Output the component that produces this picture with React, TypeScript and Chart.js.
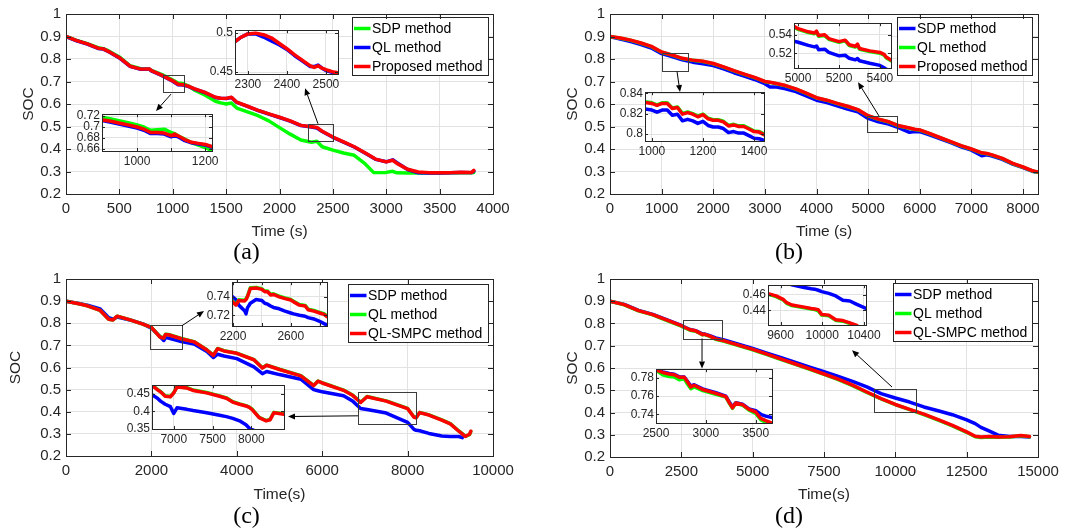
import React, { useEffect, useRef } from 'react';
import { Chart, registerables } from 'chart.js';

Chart.register(...registerables);

// ===================== DATA =====================
// shared main-axis ticks
const MAIN_Y_TICKS = [0.2, 0.3, 0.4, 0.5, 0.6, 0.7, 0.8, 0.9, 1];
const MAIN_Y_LABELS = ['0.2', '0.3', '0.4', '0.5', '0.6', '0.7', '0.8', '0.9', '1'];
const A_X_TICKS = [0, 500, 1000, 1500, 2000, 2500, 3000, 3500, 4000];
const B_X_TICKS = [0, 1000, 2000, 3000, 4000, 5000, 6000, 7000, 8000];
const C_X_TICKS = [0, 2000, 4000, 6000, 8000, 10000];
const D_X_TICKS = [0, 2500, 5000, 7500, 10000, 12500, 15000];

// ---- panel (a) ----
const A_T = [0, 100, 200, 300, 350, 400, 500, 600, 700, 780, 800, 900, 1000, 1050, 1100, 1150, 1200, 1300, 1400, 1450, 1500, 1550, 1600, 1700, 1800, 1900, 2000, 2100, 2200, 2300, 2350, 2400, 2500, 2600, 2700, 2800, 2880, 2900, 3000, 3060, 3100, 3200, 3300, 3400, 3500, 3600, 3700, 3800, 3820];
const A_PROP = [0.900, 0.882, 0.867, 0.848, 0.845, 0.833, 0.806, 0.768, 0.755, 0.756, 0.748, 0.727, 0.703, 0.688, 0.686, 0.678, 0.668, 0.652, 0.630, 0.626, 0.625, 0.630, 0.608, 0.590, 0.572, 0.556, 0.541, 0.525, 0.505, 0.499, 0.496, 0.479, 0.453, 0.432, 0.410, 0.383, 0.361, 0.355, 0.343, 0.350, 0.336, 0.310, 0.298, 0.295, 0.295, 0.295, 0.297, 0.296, 0.305];
const A_QL = [0.899, 0.881, 0.866, 0.847, 0.844, 0.832, 0.805, 0.767, 0.754, 0.755, 0.747, 0.726, 0.701, 0.686, 0.684, 0.677, 0.667, 0.651, 0.629, 0.625, 0.624, 0.629, 0.607, 0.589, 0.571, 0.555, 0.540, 0.524, 0.504, 0.498, 0.493, 0.478, 0.452, 0.431, 0.409, 0.382, 0.360, 0.354, 0.343, 0.352, 0.339, 0.309, 0.294, 0.293, 0.293, 0.294, 0.296, 0.295, 0.302];
const A_SDP = [0.900, 0.883, 0.868, 0.850, 0.846, 0.836, 0.809, 0.770, 0.757, 0.754, 0.750, 0.731, 0.706, 0.693, 0.690, 0.680, 0.663, 0.640, 0.612, 0.605, 0.600, 0.604, 0.582, 0.565, 0.548, 0.525, 0.495, 0.466, 0.440, 0.430, 0.434, 0.410, 0.395, 0.382, 0.372, 0.335, 0.296, 0.295, 0.296, 0.301, 0.294, 0.293, 0.293, 0.293, 0.293, 0.294, 0.294, 0.294, 0.295];

// ---- panel (b) ----
const B_T = [0, 200, 400, 600, 800, 1000, 1200, 1400, 1600, 1800, 2000, 2200, 2400, 2600, 2800, 3000, 3100, 3200, 3400, 3600, 3800, 4000, 4200, 4400, 4600, 4800, 5000, 5200, 5400, 5600, 5800, 5900, 6000, 6200, 6400, 6600, 6800, 7000, 7200, 7300, 7400, 7600, 7800, 8000, 8200, 8290];
const B_PROP = [0.900, 0.893, 0.884, 0.871, 0.856, 0.831, 0.818, 0.803, 0.795, 0.790, 0.780, 0.765, 0.748, 0.733, 0.718, 0.700, 0.697, 0.692, 0.682, 0.667, 0.648, 0.628, 0.617, 0.603, 0.590, 0.575, 0.548, 0.533, 0.521, 0.503, 0.493, 0.488, 0.485, 0.468, 0.450, 0.433, 0.415, 0.400, 0.383, 0.380, 0.374, 0.358, 0.336, 0.320, 0.302, 0.298];
const B_QL = [0.900, 0.892, 0.883, 0.870, 0.855, 0.830, 0.817, 0.802, 0.794, 0.789, 0.779, 0.764, 0.747, 0.732, 0.717, 0.699, 0.696, 0.691, 0.681, 0.666, 0.647, 0.627, 0.616, 0.602, 0.589, 0.574, 0.547, 0.532, 0.520, 0.502, 0.492, 0.487, 0.484, 0.467, 0.449, 0.432, 0.414, 0.399, 0.382, 0.379, 0.373, 0.357, 0.335, 0.319, 0.301, 0.297];
const B_SDP = [0.899, 0.889, 0.877, 0.864, 0.849, 0.824, 0.811, 0.796, 0.786, 0.779, 0.771, 0.756, 0.739, 0.724, 0.709, 0.690, 0.676, 0.676, 0.668, 0.655, 0.636, 0.617, 0.606, 0.592, 0.577, 0.565, 0.536, 0.521, 0.511, 0.494, 0.474, 0.478, 0.477, 0.462, 0.445, 0.428, 0.410, 0.395, 0.370, 0.374, 0.369, 0.354, 0.333, 0.317, 0.300, 0.297];

// ---- panel (c) ----
const C_T = [0, 300, 500, 800, 1000, 1100, 1200, 1500, 1800, 2000, 2200, 2290, 2330, 2400, 2700, 3000, 3300, 3450, 3550, 3700, 4000, 4400, 4600, 4700, 5000, 5500, 5800, 5900, 6000, 6500, 6720, 6900, 7050, 7500, 8000, 8150, 8200, 8280, 8500, 8800, 9000, 9200, 9280, 9350, 9450, 9480];
const C_SMPC = [0.900, 0.888, 0.879, 0.858, 0.818, 0.815, 0.832, 0.815, 0.796, 0.781, 0.738, 0.733, 0.749, 0.748, 0.730, 0.716, 0.679, 0.655, 0.685, 0.675, 0.664, 0.635, 0.598, 0.610, 0.591, 0.562, 0.518, 0.538, 0.530, 0.497, 0.473, 0.442, 0.468, 0.448, 0.414, 0.375, 0.373, 0.396, 0.385, 0.362, 0.345, 0.312, 0.300, 0.288, 0.298, 0.312];
const C_QL = [0.900, 0.888, 0.879, 0.858, 0.818, 0.815, 0.832, 0.815, 0.796, 0.781, 0.739, 0.734, 0.750, 0.749, 0.731, 0.717, 0.680, 0.656, 0.686, 0.676, 0.665, 0.636, 0.599, 0.611, 0.592, 0.563, 0.519, 0.539, 0.531, 0.498, 0.474, 0.443, 0.469, 0.449, 0.415, 0.376, 0.374, 0.397, 0.386, 0.363, 0.346, 0.313, 0.301, 0.289, 0.297, 0.310];
const C_SDP = [0.900, 0.889, 0.882, 0.865, 0.825, 0.818, 0.828, 0.815, 0.797, 0.778, 0.740, 0.722, 0.735, 0.733, 0.717, 0.706, 0.672, 0.645, 0.660, 0.652, 0.640, 0.603, 0.572, 0.582, 0.568, 0.547, 0.500, 0.495, 0.490, 0.472, 0.447, 0.415, 0.410, 0.394, 0.352, 0.320, 0.316, 0.314, 0.302, 0.290, 0.288, 0.288, 0.283, null, null, null];

// ---- panel (d) ----
const D_T = [0, 500, 1000, 1500, 2000, 2500, 2800, 3000, 3250, 3300, 3500, 3700, 4000, 4500, 5000, 5500, 6000, 6500, 7000, 7500, 8000, 8500, 9000, 9500, 10000, 10500, 11000, 11500, 12000, 12500, 12800, 13000, 13300, 13600, 14000, 14400, 14700];
const D_SMPC = [0.900, 0.885, 0.858, 0.840, 0.815, 0.790, 0.772, 0.767, 0.750, 0.752, 0.743, 0.731, 0.722, 0.703, 0.684, 0.662, 0.640, 0.618, 0.596, 0.573, 0.550, 0.523, 0.492, 0.462, 0.436, 0.414, 0.393, 0.368, 0.342, 0.313, 0.293, 0.290, 0.292, 0.290, 0.291, 0.297, 0.292];
const D_QL = [0.900, 0.884, 0.857, 0.839, 0.813, 0.788, 0.770, 0.765, 0.749, 0.751, 0.742, 0.729, 0.720, 0.701, 0.682, 0.660, 0.638, 0.616, 0.594, 0.571, 0.548, 0.521, 0.490, 0.461, 0.435, 0.413, 0.391, 0.366, 0.340, 0.311, 0.291, 0.288, 0.290, 0.289, 0.290, 0.296, 0.291];
const D_SDP = [0.900, 0.886, 0.859, 0.841, 0.816, 0.791, 0.773, 0.768, 0.752, 0.753, 0.745, 0.735, 0.726, 0.707, 0.688, 0.667, 0.646, 0.625, 0.604, 0.583, 0.562, 0.540, 0.515, 0.485, 0.465, 0.447, 0.425, 0.408, 0.390, 0.367, 0.350, 0.333, 0.316, 0.298, 0.292, 0.292, 0.290];

// ---- insets ----
const IA1_T = [897, 920, 950, 980, 1000, 1020, 1040, 1060, 1080, 1100, 1110, 1120, 1140, 1160, 1180, 1200, 1220];
const IA1_PROP = [0.713, 0.711, 0.707, 0.703, 0.700, 0.696, 0.690, 0.690, 0.689, 0.684, 0.687, 0.684, 0.677, 0.672, 0.670, 0.668, 0.664];
const IA1_QL = [0.712, 0.709, 0.705, 0.701, 0.698, 0.694, 0.688, 0.688, 0.687, 0.682, 0.685, 0.682, 0.675, 0.671, 0.669, 0.667, 0.663];
const IA1_SDP = [0.718, 0.715, 0.711, 0.707, 0.704, 0.700, 0.694, 0.695, 0.696, 0.690, 0.688, 0.684, 0.678, 0.671, 0.667, 0.662, 0.657];
const IA1_X_TICKS = [1000, 1100, 1200];
const IA1_X_LABELS = ['1000', '', '1200'];
const IA1_Y_TICKS = [0.66, 0.68, 0.7, 0.72];
const IA1_Y_LABELS = ['0.66', '0.68', '0.7', '0.72'];

const IA2_T = [2267, 2280, 2300, 2320, 2340, 2360, 2380, 2400, 2420, 2440, 2460, 2470, 2480, 2490, 2500, 2520, 2531];
const IA2_PROP = [0.489, 0.494, 0.499, 0.500, 0.498, 0.494, 0.487, 0.480, 0.472, 0.465, 0.458, 0.456, 0.458, 0.455, 0.453, 0.450, 0.449];
const IA2_QL = [0.489, 0.494, 0.499, 0.499, 0.495, 0.490, 0.485, 0.479, 0.471, 0.464, 0.457, 0.457, 0.459, 0.455, 0.452, 0.449, 0.448];
const IA2_SDP = [0.432, 0.431, 0.430, 0.432, 0.434, 0.430, 0.424, 0.410, 0.407, 0.404, 0.401, 0.400, 0.399, 0.397, 0.395, 0.392, 0.391];
const IA2_X_TICKS = [2300, 2400, 2500];
const IA2_X_LABELS = ['2300', '2400', '2500'];
const IA2_Y_TICKS = [0.45, 0.5];
const IA2_Y_LABELS = ['0.45', '0.5'];

const IB1_T = [973, 1000, 1020, 1040, 1060, 1080, 1100, 1120, 1140, 1160, 1180, 1200, 1220, 1240, 1260, 1280, 1300, 1320, 1340, 1360, 1380, 1400, 1420, 1439];
const IB1_PROP = [0.831, 0.830, 0.828, 0.830, 0.830, 0.825, 0.826, 0.8195, 0.821, 0.8195, 0.817, 0.819, 0.815, 0.8135, 0.8135, 0.812, 0.808, 0.809, 0.8075, 0.8075, 0.805, 0.8025, 0.802, 0.7995];
const IB1_QL = [0.8316, 0.8306, 0.8286, 0.8306, 0.8306, 0.8256, 0.8266, 0.8201, 0.8216, 0.8201, 0.8176, 0.8196, 0.8156, 0.8141, 0.8141, 0.8126, 0.8086, 0.8096, 0.8081, 0.8081, 0.8056, 0.8031, 0.8026, 0.8001];
const IB1_SDP = [0.8245, 0.8235, 0.8215, 0.8235, 0.8235, 0.8185, 0.8195, 0.813, 0.8145, 0.813, 0.8105, 0.8125, 0.8085, 0.807, 0.807, 0.8055, 0.8015, 0.8025, 0.801, 0.801, 0.7985, 0.796, 0.7955, 0.794];
const IB1_X_TICKS = [1000, 1200, 1400];
const IB1_X_LABELS = ['1000', '1200', '1400'];
const IB1_Y_TICKS = [0.8, 0.82, 0.84];
const IB1_Y_LABELS = ['0.8', '0.82', '0.84'];

const IB2_T = [4980, 5000, 5050, 5080, 5090, 5100, 5130, 5150, 5200, 5230, 5250, 5280, 5290, 5300, 5350, 5400, 5420, 5430, 5454];
const IB2_PROP = [0.5493, 0.5467, 0.5433, 0.542, 0.544, 0.5393, 0.540, 0.536, 0.5327, 0.5343, 0.5293, 0.5277, 0.530, 0.5253, 0.5227, 0.521, 0.519, 0.516, 0.5127];
const IB2_QL = [0.5485, 0.5459, 0.5425, 0.5412, 0.5432, 0.5385, 0.5392, 0.5352, 0.5319, 0.5335, 0.5285, 0.5269, 0.5292, 0.5245, 0.5219, 0.5202, 0.5182, 0.5152, 0.5119];
const IB2_SDP = [0.5333, 0.532, 0.5287, 0.527, 0.528, 0.524, 0.5245, 0.521, 0.5173, 0.518, 0.5147, 0.513, 0.5145, 0.512, 0.5093, 0.507, 0.5045, 0.503, 0.501];
const IB2_X_TICKS = [5000, 5200, 5400];
const IB2_X_LABELS = ['5000', '5200', '5400'];
const IB2_Y_TICKS = [0.52, 0.54];
const IB2_Y_LABELS = ['0.52', '0.54'];

const IC1_T = [2193, 2220, 2240, 2280, 2290, 2300, 2320, 2360, 2400, 2420, 2440, 2460, 2480, 2520, 2560, 2600, 2620, 2660, 2700, 2720, 2760, 2800, 2830, 2851];
const IC1_SMPC = [0.7353, 0.731, 0.736, 0.7355, 0.737, 0.740, 0.749, 0.7495, 0.748, 0.7455, 0.7455, 0.742, 0.7425, 0.740, 0.738, 0.7365, 0.7345, 0.731, 0.730, 0.726, 0.7245, 0.7225, 0.721, 0.7185];
const IC1_QL = [0.736, 0.7317, 0.7367, 0.7362, 0.7377, 0.7407, 0.7497, 0.7502, 0.7487, 0.7462, 0.7462, 0.7427, 0.7432, 0.7407, 0.7387, 0.7372, 0.7352, 0.7317, 0.7307, 0.7267, 0.7252, 0.7232, 0.7217, 0.7192];
const IC1_SDP = [0.7405, 0.737, 0.731, 0.725, 0.7215, 0.728, 0.733, 0.737, 0.736, 0.733, 0.732, 0.730, 0.7285, 0.727, 0.7245, 0.7225, 0.7215, 0.720, 0.719, 0.7175, 0.716, 0.7135, 0.711, 0.7095];
const IC1_X_TICKS = [2200, 2400, 2600, 2800];
const IC1_X_LABELS = ['2200', '', '2600', ''];
const IC1_Y_TICKS = [0.72, 0.74];
const IC1_Y_LABELS = ['0.72', '0.74'];

const IC2_T = [6720, 6790, 6830, 6890, 6957, 7000, 7042, 7170, 7250, 7424, 7590, 7678, 7760, 7847, 7930, 7974, 8010, 8100, 8190, 8240, 8290, 8420];
const IC2_SMPC = [0.473, 0.461, 0.455, 0.4426, 0.441, 0.452, 0.4685, 0.4657, 0.459, 0.452, 0.4426, 0.437, 0.426, 0.420, 0.415, 0.411, 0.405, 0.382, 0.373, 0.376, 0.396, 0.3917];
const IC2_QL = [0.474, 0.462, 0.456, 0.4436, 0.442, 0.453, 0.4695, 0.4667, 0.460, 0.453, 0.4436, 0.438, 0.427, 0.421, 0.416, 0.412, 0.406, 0.383, 0.374, 0.377, 0.397, 0.3927];
const IC2_SDP = [0.447, 0.437, 0.4287, 0.420, 0.413, 0.394, 0.410, 0.4055, 0.402, 0.396, 0.389, 0.385, 0.380, 0.373, 0.362, 0.352, 0.348, 0.340, 0.332, 0.328, 0.325, 0.318];
const IC2_X_TICKS = [7000, 7500, 8000];
const IC2_X_LABELS = ['7000', '7500', '8000'];
const IC2_Y_TICKS = [0.35, 0.4, 0.45];
const IC2_Y_LABELS = ['0.35', '0.4', '0.45'];

const ID1_T = [9480, 9557, 9625, 9659, 9709, 9827, 9894, 9928, 9962, 9995, 10063, 10130, 10198, 10265, 10332, 10420];
const ID1_SMPC = [0.4617, 0.4587, 0.4543, 0.450, 0.447, 0.4443, 0.4426, 0.442, 0.441, 0.4348, 0.434, 0.428, 0.427, 0.424, 0.4209, null];
const ID1_QL = [0.4609, 0.4579, 0.4535, 0.4492, 0.4462, 0.4435, 0.4418, 0.4412, 0.4395, 0.434, 0.4332, 0.4272, 0.4262, 0.4232, 0.4201, null];
const ID1_SDP = [0.485, 0.481, 0.478, 0.476, 0.473, 0.4696, 0.468, 0.4674, 0.466, 0.4643, 0.462, 0.4587, 0.453, 0.4522, 0.4478, 0.4426];
const ID1_X_TICKS = [9600, 10000, 10400];
const ID1_X_LABELS = ['9600', '10000', '10400'];
const ID1_Y_TICKS = [0.44, 0.46];
const ID1_Y_LABELS = ['0.44', '0.46'];

const ID2_T = [2500, 2567, 2633, 2683, 2733, 2783, 2817, 2850, 2883, 2967, 3100, 3200, 3233, 3267, 3300, 3367, 3433, 3500, 3550, 3600, 3663];
const ID2_SMPC = [0.7889, 0.786, 0.7842, 0.7835, 0.7807, 0.7807, 0.7754, 0.770, 0.7719, 0.7673, 0.763, 0.7595, 0.7531, 0.7471, 0.7524, 0.7506, 0.7453, 0.7425, 0.7354, 0.733, 0.7304];
const ID2_QL = [0.7885, 0.7835, 0.7815, 0.781, 0.778, 0.779, 0.773, 0.768, 0.770, 0.766, 0.762, 0.7588, 0.7525, 0.7465, 0.752, 0.750, 0.7445, 0.741, 0.734, 0.731, 0.7298];
const ID2_SDP = [0.789, 0.7865, 0.7848, 0.784, 0.7812, 0.781, 0.776, 0.771, 0.7725, 0.768, 0.7638, 0.760, 0.754, 0.748, 0.7528, 0.751, 0.746, 0.744, 0.740, 0.738, 0.7365];
const ID2_X_TICKS = [2500, 3000, 3500];
const ID2_X_LABELS = ['2500', '3000', '3500'];
const ID2_Y_TICKS = [0.74, 0.76, 0.78];
const ID2_Y_LABELS = ['0.74', '0.76', '0.78'];

// ---- annotations (zoom boxes [t0, t1, soc0, soc1], arrows [tFrom, socFrom, tTo, socTo]) ----
const BOXES_A = [[909, 1105, 0.653, 0.7275], [2267, 2501, 0.437, 0.512]];
const BOXES_B = [[1008, 1512, 0.745, 0.8286], [4983, 5564, 0.477, 0.547]];
const BOXES_C = [[1967, 2717, 0.6855, 0.792], [6838, 8197, 0.3465, 0.491]];
const BOXES_D = [[9260, 10733, 0.4035, 0.5075], [2550, 3917, 0.7325, 0.8145]];
const ARROWS_A = [[984, 0.644, 843, 0.569], [2361, 0.512, 2239, 0.670]];
const ARROWS_B = [[1298, 0.745, 1356, 0.653], [5210, 0.547, 4804, 0.697]];
const ARROWS_C = [[2717, 0.789, 3232, 0.855], [6838, 0.3816, 5199, 0.3785]];
const ARROWS_D = [[9884, 0.5145, 8482, 0.680], [3225, 0.7325, 3225, 0.598]];

// ===================== STYLES =====================
const SANS = '"Liberation Sans", Arial, Helvetica, sans-serif';
const SERIF = '"Liberation Serif", "Times New Roman", serif';
const RED = '#ff0000';
const GREEN = '#00ff00';
const BLUE = '#0000ff';
const AXIS = '#262626';
const GRID = '#e2e2e2';
const LINE_W = 3.5;

type Series = { label: string; t: number[]; v: (number | null)[]; color: string; order: number };

function ds(s: Series) {
  return {
    label: s.label,
    data: s.t.map((x, i) => ({ x, y: s.v[i] })),
    borderColor: s.color,
    backgroundColor: s.color,
    borderWidth: LINE_W,
    pointRadius: 0,
    tension: 0,
    fill: false,
    order: s.order,
    clip: 0,
    spanGaps: false,
    borderJoinStyle: 'round',
    borderCapStyle: 'round',
  };
}

function labelFor(values: number[], labels: string[]) {
  return (val: any) => {
    const i = values.findIndex((v) => Math.abs(v - Number(val)) < 1e-9);
    return i >= 0 ? labels[i] : '';
  };
}

function frameDraw(chart: any, tickLen: number) {
  const { ctx, chartArea: a, scales } = chart;
  ctx.save();
  ctx.strokeStyle = AXIS;
  ctx.lineWidth = 1;
  ctx.beginPath();
  for (const t of scales.x.ticks) {
    const px = Math.round(scales.x.getPixelForValue(t.value)) + 0.5;
    if (px <= a.left + 1 || px >= a.right - 1) continue;
    ctx.moveTo(px, a.bottom);
    ctx.lineTo(px, a.bottom - tickLen);
    ctx.moveTo(px, a.top);
    ctx.lineTo(px, a.top + tickLen);
  }
  for (const t of scales.y.ticks) {
    const py = Math.round(scales.y.getPixelForValue(t.value)) + 0.5;
    if (py <= a.top + 1 || py >= a.bottom - 1) continue;
    ctx.moveTo(a.left, py);
    ctx.lineTo(a.left + tickLen, py);
    ctx.moveTo(a.right, py);
    ctx.lineTo(a.right - tickLen, py);
  }
  ctx.stroke();
  const l = Math.round(a.left) + 0.5;
  const t = Math.round(a.top) + 0.5;
  ctx.strokeRect(l, t, Math.round(a.right) - Math.round(a.left), Math.round(a.bottom) - Math.round(a.top));
  ctx.restore();
}

function drawArrow(ctx: CanvasRenderingContext2D, x1: number, y1: number, x2: number, y2: number) {
  const ang = Math.atan2(y2 - y1, x2 - x1);
  const L = 7;
  const W = 3;
  const bx = x2 - L * Math.cos(ang);
  const by = y2 - L * Math.sin(ang);
  ctx.strokeStyle = '#000';
  ctx.fillStyle = '#000';
  ctx.lineWidth = 1;
  ctx.beginPath();
  ctx.moveTo(x1, y1);
  ctx.lineTo(bx, by);
  ctx.stroke();
  ctx.beginPath();
  ctx.moveTo(x2, y2);
  ctx.lineTo(bx - W * Math.sin(ang), by + W * Math.cos(ang));
  ctx.lineTo(bx + W * Math.sin(ang), by - W * Math.cos(ang));
  ctx.closePath();
  ctx.fill();
}

type MainSpec = {
  pos: { left: number; top: number; w: number; h: number };
  area: { l: number; t: number; r: number; b: number };
  xMax: number;
  xTicks: number[];
  xTitle: string;
  label: string;
  labelPad: number;
  socPad: number;
  series: Series[];
  legend: { right: number; top: number; w: number; h: number };
  boxes: number[][];
  arrows: number[][];
};

const MAIN: MainSpec[] = [
  {
    pos: { left: 0, top: 0, w: 540, h: 265 }, area: { l: 66, t: 12, r: 493, b: 194 },
    xMax: 4000, xTicks: A_X_TICKS, xTitle: 'Time (s)', label: '(a)', labelPad: 0, socPad: 19,
    series: [
      { label: 'SDP method', t: A_T, v: A_SDP, color: GREEN, order: 2 },
      { label: 'QL method', t: A_T, v: A_QL, color: BLUE, order: 1 },
      { label: 'Proposed method', t: A_T, v: A_PROP, color: RED, order: 0 },
    ],
    legend: { right: 5, top: 3, w: 136, h: 58 }, boxes: BOXES_A, arrows: ARROWS_A,
  },
  {
    pos: { left: 540, top: 0, w: 540, h: 265 }, area: { l: 610, t: 12, r: 1038, b: 194 },
    xMax: 8290, xTicks: B_X_TICKS, xTitle: 'Time (s)', label: '(b)', labelPad: 0, socPad: 23,
    series: [
      { label: 'SDP method', t: B_T, v: B_SDP, color: BLUE, order: 2 },
      { label: 'QL method', t: B_T, v: B_QL, color: GREEN, order: 1 },
      { label: 'Proposed method', t: B_T, v: B_PROP, color: RED, order: 0 },
    ],
    legend: { right: 6, top: 3, w: 135, h: 58 }, boxes: BOXES_B, arrows: ARROWS_B,
  },
  {
    pos: { left: 0, top: 265, w: 540, h: 266 }, area: { l: 66, t: 273, r: 493, b: 456 },
    xMax: 10000, xTicks: C_X_TICKS, xTitle: 'Time(s)', label: '(c)', labelPad: 2.5, socPad: 6,
    series: [
      { label: 'SDP method', t: C_T, v: C_SDP, color: BLUE, order: 2 },
      { label: 'QL method', t: C_T, v: C_QL, color: GREEN, order: 1 },
      { label: 'QL-SMPC method', t: C_T, v: C_SMPC, color: RED, order: 0 },
    ],
    legend: { right: 5, top: 5, w: 140, h: 58 }, boxes: BOXES_C, arrows: ARROWS_C,
  },
  {
    pos: { left: 540, top: 265, w: 540, h: 266 }, area: { l: 610, t: 275, r: 1038, b: 457 },
    xMax: 15000, xTicks: D_X_TICKS, xTitle: 'Time(s)', label: '(d)', labelPad: 2.5, socPad: 23,
    series: [
      { label: 'SDP method', t: D_T, v: D_SDP, color: BLUE, order: 2 },
      { label: 'QL method', t: D_T, v: D_QL, color: GREEN, order: 1 },
      { label: 'QL-SMPC method', t: D_T, v: D_SMPC, color: RED, order: 0 },
    ],
    legend: { right: 6, top: 4, w: 139, h: 58 }, boxes: BOXES_D, arrows: ARROWS_D,
  },
];

type InsetSpec = {
  box: { l: number; t: number; r: number; b: number };
  x: [number, number];
  y: [number, number];
  xTicks: number[]; xLabels: string[];
  yTicks: number[]; yLabels: string[];
  series: Series[];
};

function trio(t: number[], sdp: (number | null)[], ql: (number | null)[], prop: (number | null)[], sdpColor: string, qlColor: string): Series[] {
  return [
    { label: 'SDP', t, v: sdp, color: sdpColor, order: 2 },
    { label: 'QL', t, v: ql, color: qlColor, order: 1 },
    { label: 'P', t, v: prop, color: RED, order: 0 },
  ];
}

const INSETS: InsetSpec[] = [
  { box: { l: 102, t: 113, r: 212, b: 151 }, x: [897, 1220], y: [0.656, 0.7235], xTicks: IA1_X_TICKS, xLabels: IA1_X_LABELS, yTicks: IA1_Y_TICKS, yLabels: IA1_Y_LABELS, series: trio(IA1_T, IA1_SDP, IA1_QL, IA1_PROP, GREEN, BLUE) },
  { box: { l: 235, t: 29, r: 338, b: 74 }, x: [2267, 2531], y: [0.4475, 0.50375], xTicks: IA2_X_TICKS, xLabels: IA2_X_LABELS, yTicks: IA2_Y_TICKS, yLabels: IA2_Y_LABELS, series: trio(IA2_T, IA2_SDP, IA2_QL, IA2_PROP, GREEN, BLUE) },
  { box: { l: 645, t: 91, r: 764, b: 141 }, x: [973, 1439], y: [0.7933, 0.841], xTicks: IB1_X_TICKS, xLabels: IB1_X_LABELS, yTicks: IB1_Y_TICKS, yLabels: IB1_Y_LABELS, series: trio(IB1_T, IB1_SDP, IB1_QL, IB1_PROP, BLUE, GREEN) },
  { box: { l: 794, t: 22, r: 891, b: 68 }, x: [4980, 5454], y: [0.5042, 0.5526], xTicks: IB2_X_TICKS, xLabels: IB2_X_LABELS, yTicks: IB2_Y_TICKS, yLabels: IB2_Y_LABELS, series: trio(IB2_T, IB2_SDP, IB2_QL, IB2_PROP, BLUE, GREEN) },
  { box: { l: 232, t: 281, r: 327, b: 326 }, x: [2193, 2851], y: [0.7084, 0.7558], xTicks: IC1_X_TICKS, xLabels: IC1_X_LABELS, yTicks: IC1_Y_TICKS, yLabels: IC1_Y_LABELS, series: trio(IC1_T, IC1_SDP, IC1_QL, IC1_SMPC, BLUE, GREEN) },
  { box: { l: 152, t: 384, r: 284, b: 429 }, x: [6720, 8420], y: [0.35, 0.4737], xTicks: IC2_X_TICKS, xLabels: IC2_X_LABELS, yTicks: IC2_Y_TICKS, yLabels: IC2_Y_LABELS, series: trio(IC2_T, IC2_SDP, IC2_QL, IC2_SMPC, BLUE, GREEN) },
  { box: { l: 768, t: 284, r: 866, b: 325 }, x: [9480, 10420], y: [0.4213, 0.4725], xTicks: ID1_X_TICKS, xLabels: ID1_X_LABELS, yTicks: ID1_Y_TICKS, yLabels: ID1_Y_LABELS, series: trio(ID1_T, ID1_SDP, ID1_QL, ID1_SMPC, BLUE, GREEN) },
  { box: { l: 656, t: 368, r: 772, b: 423 }, x: [2500, 3663], y: [0.7304, 0.7896], xTicks: ID2_X_TICKS, xLabels: ID2_X_LABELS, yTicks: ID2_Y_TICKS, yLabels: ID2_Y_LABELS, series: trio(ID2_T, ID2_SDP, ID2_QL, ID2_SMPC, BLUE, GREEN) },
];

const INSET_YW = 34;
const INSET_PAD_T = 8;
const INSET_PAD_R = 20;
const INSET_XH = 22;

function mainConfig(p: MainSpec): any {
  const yW = p.area.l - p.pos.left;
  const padR = p.pos.left + p.pos.w - p.area.r;
  const padT = p.area.t - p.pos.top;
  const titleH = 24 + p.labelPad;
  const xH = p.pos.top + p.pos.h - titleH - p.area.b;
  const xLabels = p.xTicks.map((v) => String(v));
  const decor = {
    id: 'decor',
    afterDatasetsDraw(chart: any) {
      const { ctx, chartArea: a, scales } = chart;
      const X = (v: number) => scales.x.getPixelForValue(v);
      const Y = (v: number) => scales.y.getPixelForValue(v);
      ctx.save();
      // zoom rectangles
      ctx.strokeStyle = '#3c3c3c';
      ctx.lineWidth = 1;
      for (const b of p.boxes) {
        const x0 = Math.round(X(b[0])) + 0.5;
        const x1 = Math.round(X(b[1])) + 0.5;
        const y0 = Math.round(Y(b[3])) + 0.5;
        const y1 = Math.round(Y(b[2])) + 0.5;
        ctx.strokeRect(x0, y0, x1 - x0, y1 - y0);
      }
      // arrows
      for (const ar of p.arrows) drawArrow(ctx, X(ar[0]), Y(ar[1]), X(ar[2]), Y(ar[3]));
      // legend
      const lg = p.legend;
      const lx = Math.round(a.right - lg.right - lg.w) + 0.5;
      const ly = Math.round(a.top + lg.top) + 0.5;
      ctx.fillStyle = '#fff';
      ctx.fillRect(lx, ly, lg.w, lg.h);
      ctx.strokeStyle = AXIS;
      ctx.lineWidth = 1;
      ctx.strokeRect(lx, ly, lg.w, lg.h);
      chart.data.datasets.forEach((d: any, i: number) => {
        const cy = ly + 11 + i * 19;
        ctx.strokeStyle = d.borderColor;
        ctx.lineWidth = LINE_W;
        ctx.lineCap = 'butt';
        ctx.beginPath();
        ctx.moveTo(lx + 1.5, cy);
        ctx.lineTo(lx + 18, cy);
        ctx.stroke();
        ctx.fillStyle = '#000';
        ctx.font = `14px ${SANS}`;
        ctx.textAlign = 'left';
        ctx.textBaseline = 'middle';
        ctx.fillText(d.label, lx + 19.5, cy + 0.5);
      });
      ctx.restore();
    },
    afterDraw(chart: any) {
      frameDraw(chart, 5);
    },
  };
  return {
    type: 'line',
    data: { datasets: p.series.map(ds) },
    options: {
      responsive: false,
      animation: false,
      events: [],
      layout: { padding: { left: 0, right: padR, top: padT, bottom: 0 } },
      plugins: {
        legend: { display: false },
        tooltip: { enabled: false },
        title: {
          display: true,
          position: 'bottom',
          text: p.label,
          color: '#000',
          font: { family: SERIF, size: 24, weight: 'normal', lineHeight: 1 },
          padding: { top: 0, bottom: p.labelPad },
        },
      },
      scales: {
        x: {
          type: 'linear',
          min: 0,
          max: p.xMax,
          afterBuildTicks: (s: any) => { s.ticks = p.xTicks.map((v) => ({ value: v })); },
          afterFit: (s: any) => { s.height = xH; },
          grid: { color: GRID, drawTicks: false, lineWidth: 1 },
          border: { display: false },
          ticks: { font: { family: SANS, size: 15 }, color: AXIS, padding: 6, maxRotation: 0, autoSkip: false, callback: labelFor(p.xTicks, xLabels) },
          title: { display: true, text: p.xTitle, color: AXIS, font: { family: SANS, size: 15.5 }, padding: { top: 0, bottom: 0 } },
        },
        y: {
          type: 'linear',
          min: 0.2,
          max: 1,
          afterBuildTicks: (s: any) => { s.ticks = MAIN_Y_TICKS.map((v) => ({ value: v })); },
          afterFit: (s: any) => { s.width = yW; },
          grid: { color: GRID, drawTicks: false, lineWidth: 1 },
          border: { display: false },
          ticks: { font: { family: SANS, size: 15 }, color: AXIS, padding: 5, autoSkip: false, callback: labelFor(MAIN_Y_TICKS, MAIN_Y_LABELS) },
          title: { display: true, text: 'SOC', color: AXIS, font: { family: SANS, size: 15.5 }, padding: { top: p.socPad, bottom: 0 } },
        },
      },
    },
    plugins: [decor],
  };
}

function insetConfig(s: InsetSpec): any {
  const deco = {
    id: 'insetDeco',
    beforeDraw(chart: any) {
      const { ctx, chartArea: a } = chart;
      ctx.save();
      ctx.fillStyle = '#fff';
      ctx.fillRect(a.left, a.top, a.right - a.left, a.bottom - a.top);
      ctx.restore();
    },
    afterDraw(chart: any) {
      frameDraw(chart, 3);
    },
  };
  return {
    type: 'line',
    data: { datasets: s.series.map(ds) },
    options: {
      responsive: false,
      animation: false,
      events: [],
      layout: { padding: { left: 0, right: INSET_PAD_R, top: INSET_PAD_T, bottom: 0 } },
      plugins: { legend: { display: false }, tooltip: { enabled: false }, title: { display: false } },
      scales: {
        x: {
          type: 'linear',
          min: s.x[0],
          max: s.x[1],
          afterBuildTicks: (sc: any) => { sc.ticks = s.xTicks.map((v) => ({ value: v })); },
          afterFit: (sc: any) => { sc.height = INSET_XH; },
          grid: { color: GRID, drawTicks: false },
          border: { display: false },
          ticks: { font: { family: SANS, size: 12 }, color: AXIS, padding: 3, maxRotation: 0, autoSkip: false, callback: labelFor(s.xTicks, s.xLabels) },
        },
        y: {
          type: 'linear',
          min: s.y[0],
          max: s.y[1],
          afterBuildTicks: (sc: any) => { sc.ticks = s.yTicks.map((v) => ({ value: v })); },
          afterFit: (sc: any) => { sc.width = INSET_YW; },
          grid: { color: GRID, drawTicks: false },
          border: { display: false },
          ticks: { font: { family: SANS, size: 12 }, color: AXIS, padding: 2, autoSkip: false, callback: labelFor(s.yTicks, s.yLabels) },
        },
      },
    },
    plugins: [deco],
  };
}

function ChartCanvas(props: { left: number; top: number; width: number; height: number; make: () => any }) {
  const ref = useRef<HTMLCanvasElement>(null);
  const { make } = props;
  useEffect(() => {
    const chart = new Chart(ref.current as HTMLCanvasElement, make());
    return () => chart.destroy();
  }, [make]);
  return (
    <canvas
      ref={ref}
      width={props.width}
      height={props.height}
      style={{ position: 'absolute', left: props.left, top: props.top, width: props.width, height: props.height }}
    />
  );
}

const MAIN_MAKERS = MAIN.map((p) => () => mainConfig(p));
const INSET_MAKERS = INSETS.map((s) => () => insetConfig(s));

export default function App() {
  return (
    <div style={{ position: 'absolute', left: 0, top: 0, width: 1080, height: 531, background: '#fff', overflow: 'hidden' }}>
      {MAIN.map((p, i) => (
        <ChartCanvas key={'m' + i} left={p.pos.left} top={p.pos.top} width={p.pos.w} height={p.pos.h} make={MAIN_MAKERS[i]} />
      ))}
      {INSETS.map((s, i) => (
        <ChartCanvas
          key={'i' + i}
          left={s.box.l - INSET_YW}
          top={s.box.t - INSET_PAD_T}
          width={INSET_YW + (s.box.r - s.box.l) + INSET_PAD_R}
          height={INSET_PAD_T + (s.box.b - s.box.t) + INSET_XH}
          make={INSET_MAKERS[i]}
        />
      ))}
    </div>
  );
}
